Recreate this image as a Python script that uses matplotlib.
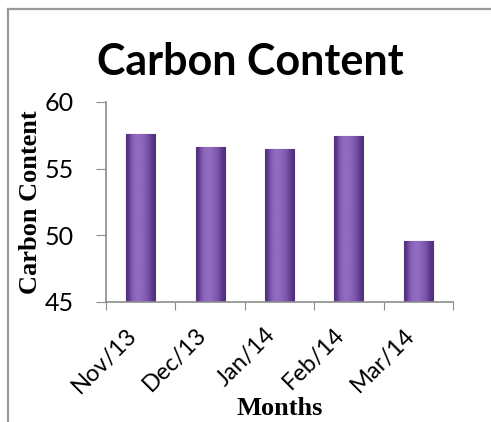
import matplotlib
matplotlib.use("Agg")
import matplotlib.pyplot as plt
import numpy as np
from matplotlib.lines import Line2D

months = ["Nov/13", "Dec/13", "Jan/14", "Feb/14", "Mar/14"]
carbon = [57.6, 56.6, 56.5, 57.45, 49.6]
yticks = [45, 50, 55, 60]

GREY = "#8c8c8c"
SANS = ["Lato", "DejaVu Sans"]
SERIF = ["Liberation Serif", "DejaVu Serif"]

fig = plt.figure(figsize=(4.91, 4.22), dpi=100)
ax = fig.add_axes([0.2159, 0.2844, 0.7067, 0.4739])

x = np.arange(len(months))
bars = ax.bar(x, np.array(carbon) - 45, bottom=45, width=0.42,
              color="#7a53a9", edgecolor="#4b2c74", linewidth=0.8, zorder=2)

# horizontal shading inside each bar
grad = np.array([[0.0, 0.55, 0.85, 0.75, 0.55, 0.3, 0.0]])
cmap = matplotlib.colors.LinearSegmentedColormap.from_list(
    "purp", ["#4f2f7c", "#7c55ad", "#9470c2"])
for b in bars:
    x0, y0 = b.get_x(), b.get_y()
    im = ax.imshow(grad, cmap=cmap, aspect="auto", zorder=2.5,
                   interpolation="bicubic",
                   extent=(x0, x0 + b.get_width(), y0, y0 + b.get_height()))
    im.set_clip_path(b)

ax.set_xlim(-0.5, len(months) - 0.5)
ax.set_ylim(45, 60)
ax.set_yticks(yticks)
ax.set_xticks(np.arange(len(months) + 1) - 0.5, minor=False)
ax.set_xticklabels([])
ax.set_xticks(x, minor=True)
ax.set_xticklabels(months, minor=True, rotation=45, ha="right", va="top",
                   fontsize=17, family=SANS)
ax.tick_params(axis="x", which="minor", length=0, pad=16)
ax.tick_params(axis="x", which="major", length=6, color=GREY, direction="out")
ax.tick_params(axis="y", length=7, color=GREY, pad=16, labelsize=18)
for t in ax.get_yticklabels():
    t.set_family(SANS)

for s in ("top", "right"):
    ax.spines[s].set_visible(False)
for s in ("left", "bottom"):
    ax.spines[s].set_color(GREY)
    ax.spines[s].set_linewidth(1.2)

ax.set_ylabel("Carbon Content", family=SERIF, fontweight="bold", fontsize=19,
              labelpad=2)
ax.set_xlabel("Months", family=SERIF, fontweight="bold", fontsize=19,
              labelpad=0)
fig.text(0.51, 0.823, "Carbon Content", ha="center", va="baseline",
         family=SANS, fontweight="bold", fontsize=31)

# chart frame (only top and left edges show)
fig.add_artist(Line2D([8 / 491, 1], [1 - 9 / 422] * 2, color="#9a9a9a", lw=1.6))
fig.add_artist(Line2D([8 / 491] * 2, [0, 1 - 9 / 422], color="#9a9a9a", lw=1.6))

fig.savefig("out.png", dpi=100)
